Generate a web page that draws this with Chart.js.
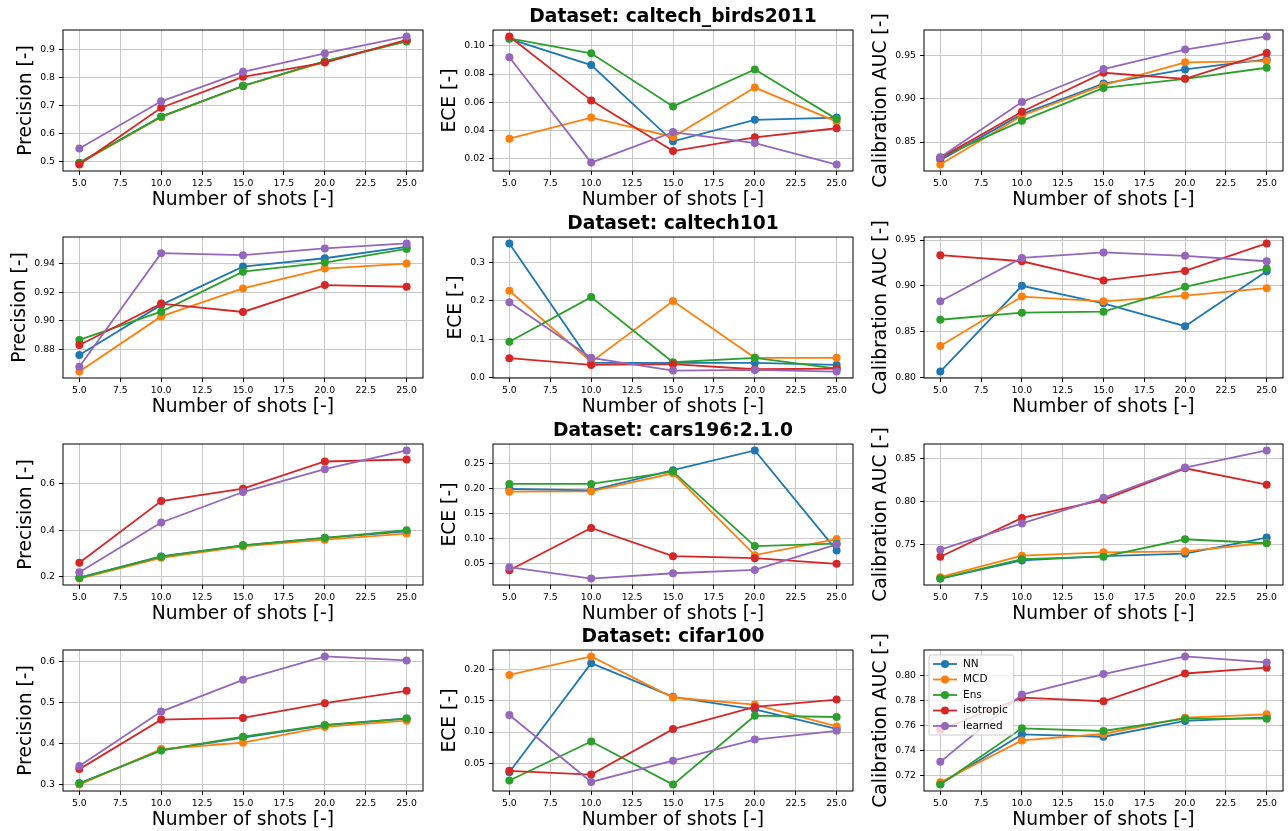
<!DOCTYPE html>
<html>
<head>
<meta charset="utf-8">
<script src="https://cdn.jsdelivr.net/npm/chart.js@4.4.0/dist/chart.umd.min.js"></script>
<style>
  body { margin: 0; background: #fff; width: 1288px; height: 831px; overflow: hidden; position: relative; }
  .cell { position: absolute; }
</style>
</head>
<body>
<script>
// shared categories
const shots = [5, 10, 15, 20, 25];
const methods = ["NN", "MCD", "Ens", "isotropic", "learned"];
const colors = ["#1f77b4", "#ff7f0e", "#2ca02c", "#d62728", "#9467bd"];
const xTickValues = [5, 7.5, 10, 12.5, 15, 17.5, 20, 22.5, 25];
const xTickLabels = ["5.0", "7.5", "10.0", "12.5", "15.0", "17.5", "20.0", "22.5", "25.0"];
const titles = ["Dataset: caltech_birds2011", "Dataset: caltech101", "Dataset: cars196:2.1.0", "Dataset: cifar100"];
const yLabels = ["Precision [-]", "ECE [-]", "Calibration AUC [-]"];

// rows of each array: NN, MCD, Ens, isotropic, learned
const birdsPrecision = [
  [0.494, 0.660, 0.771, 0.858, 0.932],
  [0.492, 0.659, 0.770, 0.857, 0.931],
  [0.495, 0.660, 0.770, 0.859, 0.930],
  [0.488, 0.692, 0.803, 0.854, 0.936],
  [0.546, 0.715, 0.821, 0.887, 0.948]
];
const birdsEce = [
  [0.1050, 0.0864, 0.0322, 0.0475, 0.0491],
  [0.0341, 0.0491, 0.0353, 0.0704, 0.0462],
  [0.1053, 0.0947, 0.0570, 0.0833, 0.0480],
  [0.1067, 0.0613, 0.0253, 0.0351, 0.0415],
  [0.0919, 0.0171, 0.0388, 0.0310, 0.0157]
];
const birdsAuc = [
  [0.8290, 0.8824, 0.9180, 0.9344, 0.9461],
  [0.8238, 0.8805, 0.9160, 0.9426, 0.9441],
  [0.8320, 0.8746, 0.9129, 0.9234, 0.9363],
  [0.8316, 0.8852, 0.9305, 0.9234, 0.9535],
  [0.8324, 0.8965, 0.9348, 0.9574, 0.9727]
];
const c101Precision = [
  [0.8763, 0.9111, 0.9377, 0.9435, 0.9514],
  [0.8648, 0.9031, 0.9225, 0.9363, 0.9398],
  [0.8868, 0.9064, 0.9342, 0.9405, 0.9500],
  [0.8833, 0.9120, 0.9062, 0.9249, 0.9237],
  [0.8681, 0.9470, 0.9456, 0.9503, 0.9538]
];
const c101Ece = [
  [0.3488, 0.0384, 0.0384, 0.0384, 0.0330],
  [0.2259, 0.0410, 0.1990, 0.0515, 0.0515],
  [0.0933, 0.2093, 0.0400, 0.0515, 0.0235],
  [0.0506, 0.0330, 0.0349, 0.0218, 0.0235],
  [0.1962, 0.0515, 0.0183, 0.0200, 0.0157]
];
const c101Auc = [
  [0.8063, 0.9000, 0.8809, 0.8559, 0.9158],
  [0.8342, 0.8882, 0.8831, 0.8893, 0.8974],
  [0.8629, 0.8706, 0.8717, 0.8989, 0.9188],
  [0.9335, 0.9268, 0.9059, 0.9162, 0.9463],
  [0.8831, 0.9305, 0.9364, 0.9327, 0.9268]
];
const carsPrecision = [
  [0.195, 0.287, 0.335, 0.367, 0.395],
  [0.191, 0.281, 0.330, 0.359, 0.3855],
  [0.194, 0.2855, 0.3348, 0.3667, 0.400],
  [0.2594, 0.526, 0.5797, 0.697, 0.7058],
  [0.2188, 0.4333, 0.5652, 0.6638, 0.745]
];
const carsEce = [
  [0.1987, 0.1960, 0.2360, 0.2753, 0.0767],
  [0.1933, 0.1940, 0.2300, 0.0673, 0.0993],
  [0.2087, 0.2087, 0.2333, 0.0853, 0.0900],
  [0.0373, 0.1213, 0.0653, 0.0613, 0.0500],
  [0.0433, 0.0207, 0.0313, 0.0380, 0.0887]
];
const carsAuc = [
  [0.7107, 0.7317, 0.7368, 0.7395, 0.7582],
  [0.7123, 0.7372, 0.7411, 0.7422, 0.7521],
  [0.7107, 0.7333, 0.7360, 0.7562, 0.7516],
  [0.7360, 0.7809, 0.8019, 0.8383, 0.8193],
  [0.7442, 0.7745, 0.8041, 0.8391, 0.8590]
];
const cifarPrecision = [
  [0.302, 0.383, 0.414, 0.444, 0.461],
  [0.299, 0.386, 0.4016, 0.4402, 0.4557],
  [0.3016, 0.3828, 0.4164, 0.4451, 0.4607],
  [0.3369, 0.4582, 0.4623, 0.4984, 0.5287],
  [0.3443, 0.4779, 0.5557, 0.6131, 0.6033]
];
const cifarEce = [
  [0.0354, 0.2108, 0.1567, 0.1366, 0.1052],
  [0.1919, 0.2217, 0.1556, 0.1442, 0.1090],
  [0.0219, 0.0847, 0.0154, 0.1263, 0.1242],
  [0.0376, 0.0316, 0.1047, 0.1404, 0.1523],
  [0.1274, 0.0197, 0.0538, 0.0879, 0.1020]
];
const cifarAuc = [
  [0.7133, 0.7528, 0.7509, 0.7635, 0.7664],
  [0.7147, 0.7480, 0.7531, 0.7661, 0.7688],
  [0.7128, 0.7576, 0.7555, 0.7653, 0.7653],
  [0.7565, 0.7821, 0.7792, 0.8013, 0.8059],
  [0.7309, 0.7845, 0.8008, 0.8149, 0.8101]
];

// y tick labels per panel
const birdsPrecisionTicks = ["0.5", "0.6", "0.7", "0.8", "0.9"];
const birdsEceTicks = ["0.02", "0.04", "0.06", "0.08", "0.10"];
const birdsAucTicks = ["0.85", "0.90", "0.95"];
const c101PrecisionTicks = ["0.88", "0.90", "0.92", "0.94"];
const c101EceTicks = ["0.0", "0.1", "0.2", "0.3"];
const c101AucTicks = ["0.80", "0.85", "0.90", "0.95"];
const carsPrecisionTicks = ["0.2", "0.4", "0.6"];
const carsEceTicks = ["0.05", "0.10", "0.15", "0.20", "0.25"];
const carsAucTicks = ["0.75", "0.80", "0.85"];
const cifarPrecisionTicks = ["0.3", "0.4", "0.5", "0.6"];
const cifarEceTicks = ["0.05", "0.10", "0.15", "0.20"];
const cifarAucTicks = ["0.72", "0.74", "0.76", "0.78", "0.80"];

const panels = [
  [birdsPrecision, birdsPrecisionTicks], [birdsEce, birdsEceTicks], [birdsAuc, birdsAucTicks],
  [c101Precision, c101PrecisionTicks], [c101Ece, c101EceTicks], [c101Auc, c101AucTicks],
  [carsPrecision, carsPrecisionTicks], [carsEce, carsEceTicks], [carsAuc, carsAucTicks],
  [cifarPrecision, cifarPrecisionTicks], [cifarEce, cifarEceTicks], [cifarAuc, cifarAucTicks]
];

const colLeft = [0, 430, 860];
const colWidth = [430, 430, 428];
const plotLeft = [63, 63, 64];
const plotRight = [423, 423, 423];
const rowTop = [0, 207, 414, 620];
const cellHeight = 211;
const xAxisHeight = 40;
const font = "'DejaVu Sans', sans-serif";
const tickFont = 9.3;
const labelFont = 18.7;

Chart.defaults.font.family = font;
Chart.defaults.color = "#000";

// y axis label drawn by hand so the long "Calibration AUC [-]" is not squeezed
const yLabelPlugin = {
  id: "yLabel",
  afterDraw(chart, args, opts) {
    const { ctx, chartArea } = chart;
    const y = chart.scales.y;
    ctx.save();
    ctx.font = tickFont + "px " + font;
    let w = 0;
    y.ticks.forEach(t => { w = Math.max(w, ctx.measureText(t.label).width); });
    const x = chartArea.left - 8.3 - w - 5.3 - 4;
    ctx.translate(x, (chartArea.top + chartArea.bottom) / 2);
    ctx.rotate(-Math.PI / 2);
    ctx.font = labelFont + "px " + font;
    ctx.fillStyle = "#000";
    ctx.textAlign = "center";
    ctx.textBaseline = "alphabetic";
    ctx.fillText(opts.text, 0, 0);
    ctx.restore();
  }
};

// axes frame and the matplotlib-like legend box
const framePlugin = {
  id: "frame",
  afterDatasetsDraw(chart, args, opts) {
    const { ctx, chartArea: ca } = chart;
    ctx.save();
    ctx.strokeStyle = "#000";
    ctx.lineWidth = 1;
    ctx.strokeRect(ca.left, ca.top, ca.right - ca.left, ca.bottom - ca.top);
    if (opts.legend) {
      ctx.font = "10.5px " + font;
      let w = 0;
      methods.forEach(m => { w = Math.max(w, ctx.measureText(m).width); });
      const bx = ca.left + 5, by = ca.top + 5, bw = 34 + w + 6, bh = 80;
      ctx.beginPath();
      ctx.roundRect(bx, by, bw, bh, 2);
      ctx.fillStyle = "rgba(255,255,255,0.8)";
      ctx.fill();
      ctx.strokeStyle = "#cccccc";
      ctx.stroke();
      methods.forEach((m, i) => {
        const yy = by + 9 + 15.5 * i;
        ctx.strokeStyle = colors[i];
        ctx.lineWidth = 1.8;
        ctx.beginPath();
        ctx.moveTo(bx + 4, yy);
        ctx.lineTo(bx + 28, yy);
        ctx.stroke();
        ctx.fillStyle = colors[i];
        ctx.beginPath();
        ctx.arc(bx + 16, yy, 4, 0, Math.PI * 2);
        ctx.fill();
        ctx.fillStyle = "#000";
        ctx.textBaseline = "middle";
        ctx.fillText(m, bx + 34, yy);
      });
    }
    ctx.restore();
  }
};

function paddedRange(series) {
  const all = series.flat();
  const lo = Math.min(...all), hi = Math.max(...all);
  const m = (hi - lo) * 0.05;
  return [lo - m, hi + m];
}

panels.forEach(([series, yTicks], k) => {
  const r = Math.floor(k / 3), c = k % 3;
  const cell = document.createElement("div");
  cell.className = "cell";
  cell.style.left = colLeft[c] + "px";
  cell.style.top = rowTop[r] + "px";
  const canvas = document.createElement("canvas");
  canvas.width = colWidth[c];
  canvas.height = cellHeight;
  canvas.style.width = colWidth[c] + "px";
  canvas.style.height = cellHeight + "px";
  cell.appendChild(canvas);
  document.body.appendChild(cell);

  const [ymin, ymax] = paddedRange(series);
  const yTickValues = yTicks.map(Number).filter(v => v >= ymin && v <= ymax);
  const hasTitle = c === 1;

  new Chart(canvas, {
    type: "line",
    data: {
      datasets: series.map((vals, i) => ({
        label: methods[i],
        data: vals.map((v, j) => ({ x: shots[j], y: v })),
        borderColor: colors[i],
        backgroundColor: colors[i],
        pointBackgroundColor: colors[i],
        pointBorderColor: colors[i],
        borderWidth: 1.8,
        pointRadius: 4,
        pointBorderWidth: 0,
        pointHoverRadius: 4,
        tension: 0,
        order: 4 - i
      }))
    },
    options: {
      responsive: false,
      animation: false,
      events: [],
      layout: { padding: { left: 0, right: colWidth[c] - plotRight[c], top: hasTitle ? 0 : 30, bottom: 0 } },
      plugins: {
        legend: { display: false },
        tooltip: { enabled: false },
        title: {
          display: hasTitle,
          text: titles[r],
          fullSize: false,
          color: "#000",
          font: { size: labelFont, weight: "bold" },
          padding: { top: 6.3, bottom: 1.3 }
        },
        yLabel: { text: yLabels[c] },
        frame: { legend: k === 11 }
      },
      scales: {
        x: {
          type: "linear",
          min: 4,
          max: 26,
          afterBuildTicks: s => { s.ticks = xTickValues.map(v => ({ value: v })); },
          afterFit: s => { s.height = xAxisHeight; },
          ticks: {
            autoSkip: false,
            maxRotation: 0,
            padding: 3,
            color: "#000",
            font: { size: tickFont },
            callback: (v, i) => xTickLabels[i]
          },
          grid: { color: "#c8c8c8", lineWidth: 1, tickLength: 4, tickColor: "#000", tickWidth: 1 },
          border: { display: false },
          title: { display: true, text: "Number of shots [-]", color: "#000", font: { size: labelFont }, padding: 0 }
        },
        y: {
          type: "linear",
          min: ymin,
          max: ymax,
          afterBuildTicks: s => { s.ticks = yTickValues.map(v => ({ value: v })); },
          afterFit: s => { s.width = plotLeft[c]; },
          ticks: {
            padding: 4,
            color: "#000",
            font: { size: tickFont },
            callback: v => yTicks.find(t => Math.abs(Number(t) - v) < 1e-9)
          },
          grid: { color: "#c8c8c8", lineWidth: 1, tickLength: 4, tickColor: "#000", tickWidth: 1 },
          border: { display: false }
        }
      }
    },
    plugins: [yLabelPlugin, framePlugin]
  });
});
</script>
</body>
</html>
